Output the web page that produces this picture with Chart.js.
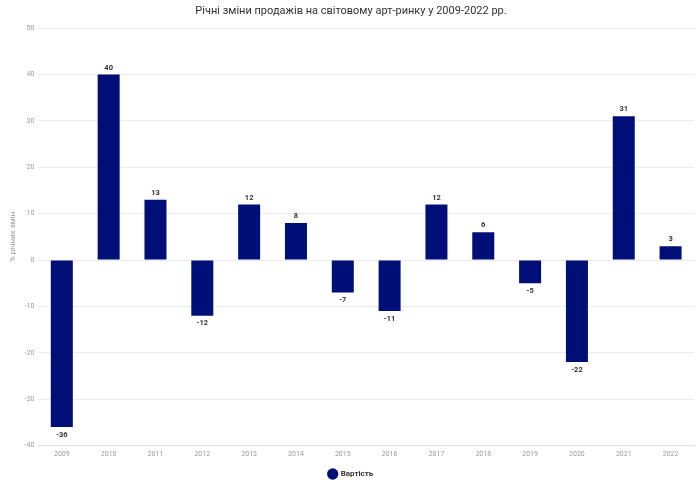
<!DOCTYPE html>
<html>
<head>
<meta charset="utf-8">
<script src="https://cdn.jsdelivr.net/npm/chart.js@4"></script>
<style>
  html, body { margin: 0; padding: 0; background: #fff; }
  #wrap { width: 700px; height: 490px; }
</style>
</head>
<body>
<div id="wrap"><canvas id="chartContainer"></canvas></div>
<script>
// data
const years = ['2009', '2010', '2011', '2012', '2013', '2014', '2015', '2016', '2017', '2018', '2019', '2020', '2021', '2022'];
const valueChange = [-36, 40, 13, -12, 12, 8, -7, -11, 12, 6, -5, -22, 31, 3];
const yTicks = [50, 40, 30, 20, 10, 0, -10, -20, -30, -40];

const barColor = '#000f78';

// draws the value above / below each bar
const valueLabels = {
    id: 'valueLabels',
    afterDatasetsDraw(chart) {
        const ctx = chart.ctx;
        const meta = chart.getDatasetMeta(0);
        ctx.save();
        ctx.font = 'bold 7.5px Roboto';
        ctx.fillStyle = '#333';
        ctx.textAlign = 'center';
        meta.data.forEach((bar, i) => {
            const v = valueChange[i];
            if (v >= 0) {
                ctx.textBaseline = 'bottom';
                ctx.fillText(v, bar.x, bar.y - 3);
            } else {
                ctx.textBaseline = 'top';
                ctx.fillText(v, bar.x, bar.y + 4);
            }
        });
        ctx.restore();
    }
};

const chart = new Chart(document.getElementById('chartContainer'), {
    type: 'bar',
    data: {
        labels: years,
        datasets: [{
            label: 'Вартість',
            data: valueChange,
            backgroundColor: barColor,
            borderColor: barColor,
            categoryPercentage: 1,
            barPercentage: 0.47
        }]
    },
    options: {
        responsive: true,
        maintainAspectRatio: false,
        animation: false,
        layout: { padding: { left: 8, right: 6, top: 0, bottom: 2 } },
        plugins: {
            title: {
                display: true,
                text: 'Річні зміни продажів на світовому арт-ринку у 2009-2022 рр.',
                font: { family: 'Roboto', size: 11, weight: 'normal' },
                color: '#333',
                padding: { top: 5, bottom: 10 }
            },
            legend: {
                position: 'bottom',
                labels: {
                    usePointStyle: true,
                    pointStyle: 'circle',
                    boxWidth: 8,
                    boxHeight: 8,
                    color: '#333',
                    font: { family: 'Roboto', size: 8, weight: 'bold' },
                    padding: 8
                }
            },
            tooltip: { enabled: false }
        },
        scales: {
            x: {
                grid: { display: false, drawTicks: false },
                border: { color: '#e0e0e0' },
                ticks: { color: '#999', font: { family: 'Roboto', size: 7 }, padding: 4 }
            },
            y: {
                min: -40,
                max: 50,
                afterBuildTicks(axis) {
                    axis.ticks = yTicks.map(v => ({ value: v }));
                },
                grid: { color: '#ebebeb', drawTicks: false },
                border: { display: false },
                ticks: { color: '#999', font: { family: 'Roboto', size: 7 }, padding: 4 },
                title: {
                    display: true,
                    text: '% річних змін',
                    color: '#999',
                    font: { family: 'Roboto', size: 8 },
                    padding: { top: 0, bottom: 3 }
                }
            }
        }
    },
    plugins: [valueLabels]
});
</script>
</body>
</html>
